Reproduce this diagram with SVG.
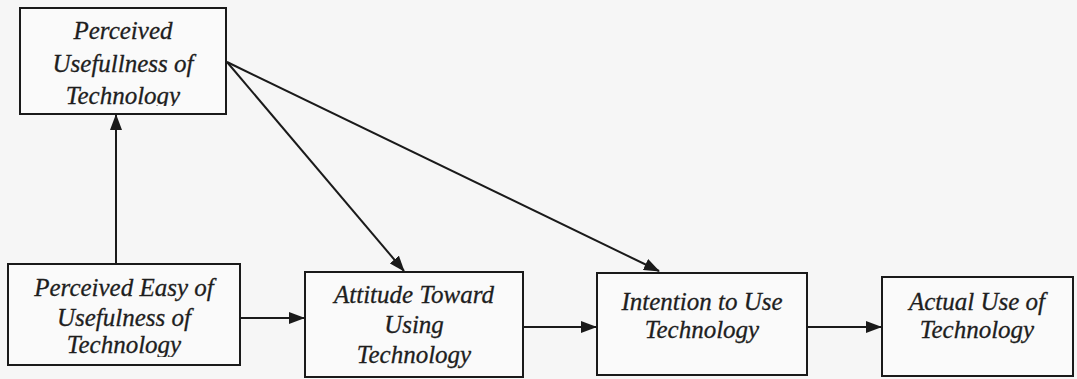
<svg xmlns="http://www.w3.org/2000/svg" width="1077" height="379" viewBox="0 0 1077 379">
  <style>
    .box { fill: #fafafa; stroke: #1a1a1a; stroke-width: 2; }
    .lbl { font-family: "Liberation Serif", "Times New Roman", serif; font-style: italic; font-size: 25px; fill: #1e1e1e; stroke: #1e1e1e; stroke-width: 0.3; text-anchor: middle; }
    .edge { stroke: #1a1a1a; stroke-width: 2; fill: none; marker-end: url(#head); }
  </style>
  <defs>
    <marker id="head" viewBox="0 0 16 12" refX="15" refY="6" markerWidth="16" markerHeight="12" markerUnits="userSpaceOnUse" orient="auto">
      <path d="M0,0 L16,6 L0,12 Z" fill="#1a1a1a"/>
    </marker>
    <clipPath id="clipPU"><rect x="21" y="9" width="204" height="97"/></clipPath>
    <clipPath id="clipPE"><rect x="9" y="265" width="230" height="92"/></clipPath>
  </defs>
  <rect width="1077" height="379" fill="#f6f6f6"/>

  <g id="perceived-usefulness">
    <rect class="box" x="20" y="8" width="206" height="106"/>
    <g clip-path="url(#clipPU)">
      <text class="lbl" x="123" y="39">Perceived</text>
      <text class="lbl" x="123" y="72">Usefullness of</text>
      <text class="lbl" x="123" y="104">Technology</text>
    </g>
  </g>

  <g id="perceived-ease">
    <rect class="box" x="8" y="264" width="232" height="101"/>
    <g clip-path="url(#clipPE)">
      <text class="lbl" x="124" y="296">Perceived Easy of</text>
      <text class="lbl" x="124" y="326">Usefulness of</text>
      <text class="lbl" x="124" y="353">Technology</text>
    </g>
  </g>

  <g id="attitude">
    <rect class="box" x="305" y="272" width="218" height="105"/>
    <text class="lbl" x="414" y="303">Attitude Toward</text>
    <text class="lbl" x="414" y="333">Using</text>
    <text class="lbl" x="414" y="363">Technology</text>
  </g>

  <g id="intention">
    <rect class="box" x="597" y="273" width="210" height="102"/>
    <text class="lbl" x="702" y="310">Intention to Use</text>
    <text class="lbl" x="702" y="338">Technology</text>
  </g>

  <g id="actual-use">
    <rect class="box" x="882" y="277" width="191" height="99"/>
    <text class="lbl" x="977" y="310">Actual Use of</text>
    <text class="lbl" x="977" y="338">Technology</text>
  </g>

  <g id="connectors">
    <line class="edge" x1="116" y1="264" x2="116" y2="115"/>
    <line class="edge" x1="240" y1="318" x2="304" y2="318"/>
    <line class="edge" x1="523" y1="327" x2="596" y2="327"/>
    <line class="edge" x1="807" y1="327" x2="881" y2="327"/>
    <line class="edge" x1="227" y1="62" x2="404" y2="271"/>
    <line class="edge" x1="227" y1="62" x2="659" y2="271"/>
  </g>
</svg>
